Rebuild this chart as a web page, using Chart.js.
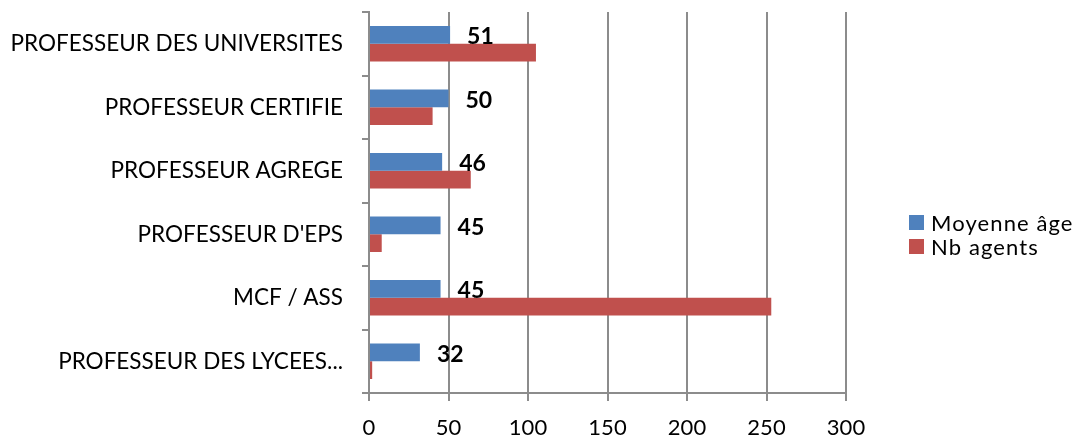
<!DOCTYPE html>
<html>
<head>
<meta charset="utf-8">
<script src="https://cdn.jsdelivr.net/npm/chart.js@4.4.1/dist/chart.umd.min.js"></script>
<style>
  html, body { margin: 0; padding: 0; background: #fff; }
  #wrap { position: relative; width: 1081px; height: 441px; }
  #legend { position: absolute; left: 909px; top: 211px; font-family: Lato, sans-serif; font-size: 22px; letter-spacing: 1.1px; color: #000; }
  .li { display: flex; align-items: center; height: 23.5px; }
  .sw { width: 15px; height: 15px; margin-right: 7px; flex: none; }
</style>
</head>
<body>
<div id="wrap">
  <canvas id="c" width="1081" height="441"></canvas>
  <div id="legend"></div>
</div>
<script>
const categories = ["PROFESSEUR DES UNIVERSITES", "PROFESSEUR CERTIFIE", "PROFESSEUR AGREGE", "PROFESSEUR D'EPS", "MCF / ASS", "PROFESSEUR DES LYCEES..."];
const moyenneAge = [51, 50, 46, 45, 45, 32];
const nbAgents = [105, 40, 64, 8, 253, 2];
const seriesNames = ["Moyenne âge", "Nb agents"];
const seriesColors = ["#4F81BD", "#C0504D"];
const xTicks = [0, 50, 100, 150, 200, 250, 300];

const FONT = "Lato, sans-serif";
const gridColor = "#8c8c8c";

const labelPlugin = {
  id: 'valLabels',
  afterDatasetsDraw(chart) {
    const ctx = chart.ctx;
    const meta = chart.getDatasetMeta(0);
    ctx.save();
    ctx.font = "bold 23px " + FONT;
    ctx.fillStyle = "#000";
    ctx.textAlign = "left";
    ctx.textBaseline = "middle";
    meta.data.forEach((bar, i) => {
      ctx.fillText(String(moyenneAge[i]), bar.x + 17, bar.y + 2);
    });
    ctx.restore();
  }
};

new Chart(document.getElementById('c'), {
  type: 'bar',
  data: {
    labels: categories,
    datasets: [
      { label: seriesNames[0], data: moyenneAge, backgroundColor: seriesColors[0], categoryPercentage: 0.56, barPercentage: 1 },
      { label: seriesNames[1], data: nbAgents, backgroundColor: seriesColors[1], categoryPercentage: 0.56, barPercentage: 1 }
    ]
  },
  options: {
    indexAxis: 'y',
    responsive: false,
    animation: false,
    layout: { padding: { top: 12, right: 235, left: 0, bottom: 0 } },
    plugins: { legend: { display: false }, tooltip: { enabled: false } },
    scales: {
      x: {
        min: 0, max: 300,
        afterBuildTicks(scale) { scale.ticks = xTicks.map(v => ({ value: v })); },
        afterFit(scale) { scale.height = 48; scale.paddingLeft = 0; },
        grid: { color: gridColor, lineWidth: 2, tickLength: 8, drawTicks: true },
        border: { color: gridColor, width: 2 },
        ticks: { font: { family: FONT, size: 22 }, color: "#000", padding: 14 }
      },
      y: {
        afterFit(scale) { scale.width = 369; scale.paddingTop = 0; scale.paddingBottom = 0; },
        grid: { color: gridColor, lineWidth: 2, drawOnChartArea: false, tickLength: 7, offset: true },
        border: { color: gridColor, width: 2 },
        ticks: { font: { family: FONT, size: 22.5 }, color: "#000", padding: 19 }
      }
    }
  },
  plugins: [labelPlugin]
});

const lg = document.getElementById('legend');
seriesNames.forEach((n, i) => {
  const d = document.createElement('div');
  d.className = 'li';
  d.innerHTML = '<span class="sw" style="background:' + seriesColors[i] + '"></span><span>' + n + '</span>';
  lg.appendChild(d);
});
</script>
</body>
</html>
